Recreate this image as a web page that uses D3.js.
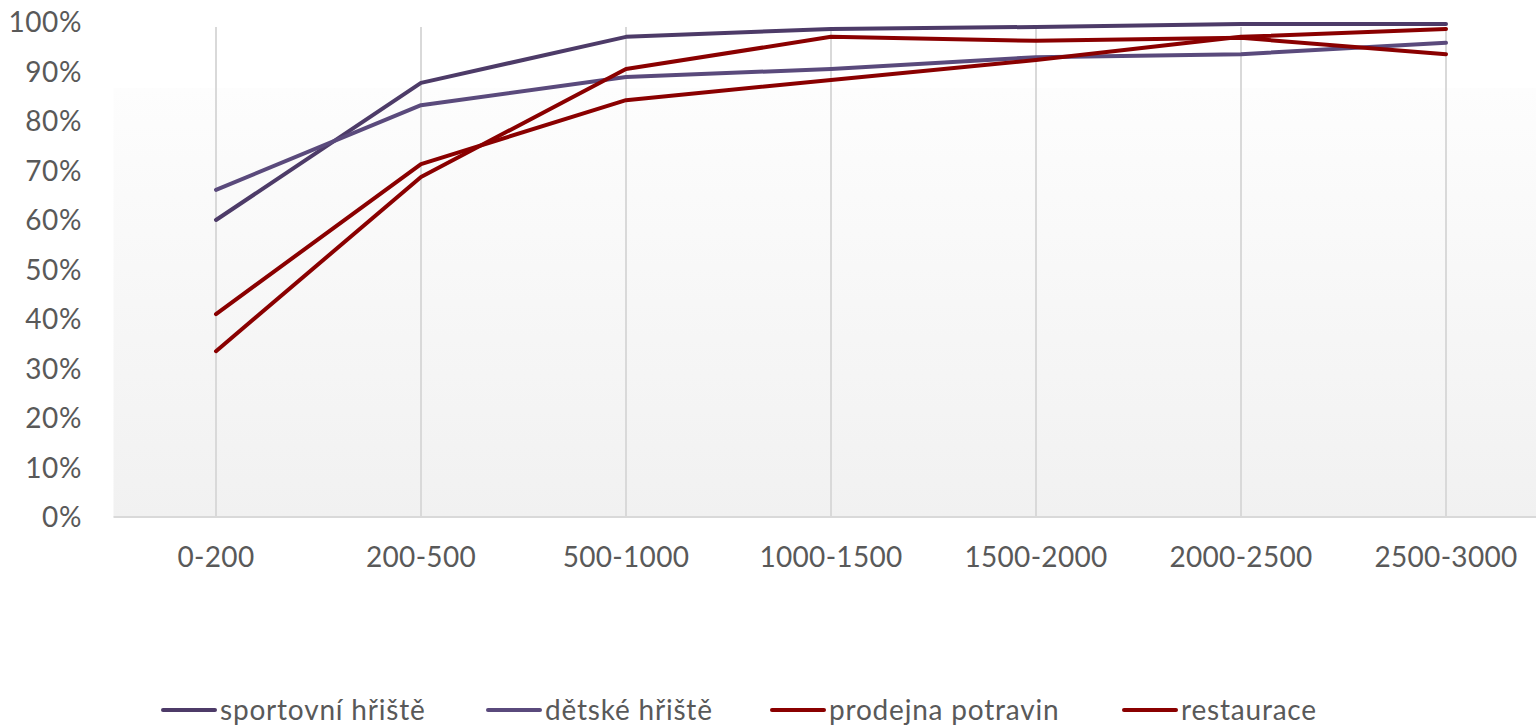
<!DOCTYPE html>
<html><head><meta charset="utf-8">
<script src="https://cdn.jsdelivr.net/npm/d3@7"></script>
<style>body{margin:0;background:#fff;overflow:hidden}svg{display:block}text{font-family:Lato,"Open Sans",sans-serif;fill:#595959}</style>
</head><body><svg id="c" width="1536" height="725"></svg>
<script>
const categories = ["0-200","200-500","500-1000","1000-1500","1500-2000","2000-2500","2500-3000"];
const seriesNames = ["sportovní hřiště","dětské hřiště","prodejna potravin","restaurace"];
const sportovni = [60.0, 87.7, 97.0, 98.6, 99.0, 99.6, 99.6];
const detske    = [66.1, 83.2, 88.9, 90.5, 92.9, 93.5, 95.8];
const prodejna  = [41.0, 71.3, 84.2, 88.3, 92.3, 97.0, 98.6];
const restaurace= [33.5, 68.7, 90.5, 97.0, 96.2, 96.8, 93.5];
const yTicks = [0,10,20,30,40,50,60,70,80,90,100];
const colors = ["#4d3b68","#5a4a7c","#8a0000","#8a0000"];
const allSeries = [sportovni, detske, prodejna, restaurace];

const svg = d3.select("#c");
const L = 113.5, R = 1548.5, T = 22, B = 517;
const x = d3.scaleBand().domain(categories).range([L, R]);
const y = d3.scaleLinear().domain([0,100]).range([B, T]);

const defs = svg.append("defs");
const g = defs.append("linearGradient").attr("id","bg").attr("x1",0).attr("y1",0).attr("x2",0).attr("y2",1);
g.append("stop").attr("offset","0%").attr("stop-color","#fdfdfd");
g.append("stop").attr("offset","100%").attr("stop-color","#f1f1f1");
svg.append("rect").attr("x",L).attr("y",88).attr("width",R-L).attr("height",B-88).attr("fill","url(#bg)");

// vertical gridlines
svg.append("g").selectAll("line").data(categories).join("line")
  .attr("x1",d=>x(d)+x.bandwidth()/2).attr("x2",d=>x(d)+x.bandwidth()/2)
  .attr("y1",y(99)).attr("y2",B).attr("stroke","#d9d9d9").attr("stroke-width",2);

// x axis line
svg.append("line").attr("x1",L).attr("x2",R).attr("y1",B).attr("y2",B).attr("stroke","#d9d9d9").attr("stroke-width",2);

// y tick labels
svg.append("g").selectAll("text").data(yTicks).join("text")
  .attr("x",82).attr("y",d=>y(d)).attr("dy","0.36em").attr("text-anchor","end")
  .style("font-size","28px").style("letter-spacing","0.6px").text(d=>d+"%");

// x tick labels
svg.append("g").selectAll("text").data(categories).join("text")
  .attr("x",d=>x(d)+x.bandwidth()/2).attr("y",557).attr("dy","0.36em").attr("text-anchor","middle")
  .style("font-size","28px").style("letter-spacing","0.3px").text(d=>d);

// lines
const line = d3.line().x((d,i)=>x(categories[i])+x.bandwidth()/2).y(d=>y(d));
svg.append("g").selectAll("path").data(allSeries).join("path")
  .attr("d",d=>line(d)).attr("fill","none").attr("stroke",(d,i)=>colors[i])
  .attr("stroke-width",4).attr("stroke-linejoin","round").attr("stroke-linecap","round");

// legend
const legX = [163, 488, 772, 1124];
const lg = svg.append("g").selectAll("g").data(seriesNames).join("g")
  .attr("transform",(d,i)=>`translate(${legX[i]},710)`);
lg.append("line").attr("x1",0).attr("x2",52).attr("y1",0).attr("y2",0)
  .attr("stroke",(d,i)=>colors[i]).attr("stroke-width",4).attr("stroke-linecap","round");
lg.append("text").attr("x",57).attr("y",0).attr("dy","0.36em").style("font-size","28px").style("letter-spacing","0.8px").text(d=>d);
</script></body></html>
